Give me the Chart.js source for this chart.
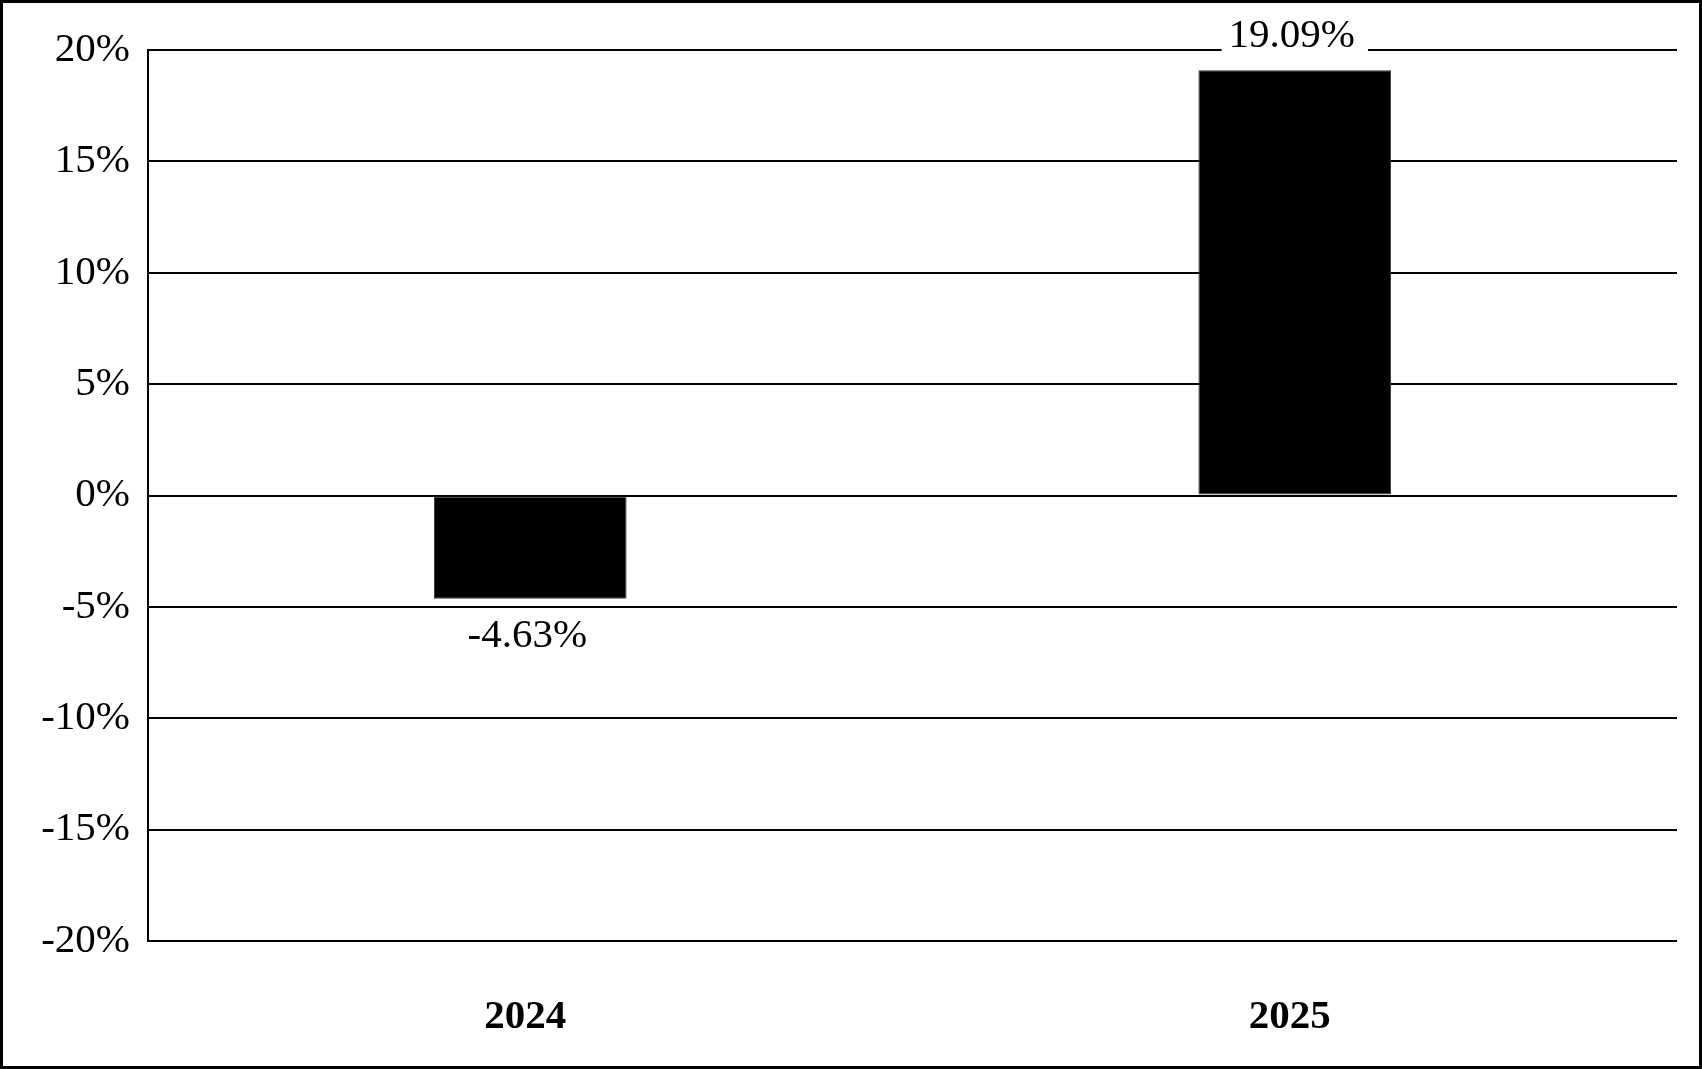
<!DOCTYPE html>
<html>
<head>
<meta charset="utf-8">
<script src="https://cdn.jsdelivr.net/npm/chart.js@4.4.0/dist/chart.umd.min.js"></script>
<style>
    html, body { margin: 0; padding: 0; background: #fff; }
    canvas { display: block; }
</style>
</head>
<body>
<canvas id="returnsChart" width="1702" height="1069"></canvas>
<script>
const categories = ['2024', '2025'];
const returns = [-4.63, 19.09];
const tickValues = [-20, -15, -10, -5, 0, 5, 10, 15, 20];

const serif = '"Liberation Serif", "Times New Roman", serif';

// frame around the whole picture
const framePlugin = {
    id: 'frame',
    afterDraw(chart) {
        const ctx = chart.ctx;
        ctx.save();
        ctx.strokeStyle = '#000';
        ctx.lineWidth = 3;
        ctx.strokeRect(1.5, 1.5, chart.width - 3, chart.height - 3);
        ctx.restore();
    }
};

// value labels above / below each bar
const valueLabels = {
    id: 'valueLabels',
    afterDatasetsDraw(chart) {
        const ctx = chart.ctx;
        const meta = chart.getDatasetMeta(0);
        ctx.save();
        ctx.font = '41px ' + serif;
        ctx.textAlign = 'center';
        ctx.textBaseline = 'middle';
        meta.data.forEach(function (bar, i) {
            const v = returns[i];
            const text = v.toFixed(2) + '%';
            const y = v >= 0 ? bar.y - 36 : bar.y + 36;
            const w = ctx.measureText(text).width;
            ctx.fillStyle = '#fff';
            ctx.fillRect(bar.x - w / 2 - 10, y - 20, w + 20, 40);
            ctx.fillStyle = '#000';
            ctx.fillText(text, bar.x - 3, y + 2);
        });
        ctx.restore();
    }
};

const ctx = document.getElementById('returnsChart').getContext('2d');
new Chart(ctx, {
    type: 'bar',
    data: {
        labels: categories,
        datasets: [{
            data: returns,
            backgroundColor: '#000',
            borderColor: '#333',
            borderWidth: 1,
            borderSkipped: false,
            categoryPercentage: 1,
            barPercentage: 0.252
        }]
    },
    options: {
        responsive: false,
        animation: false,
        layout: { padding: { top: 50, right: 25, left: 0, bottom: 0 } },
        plugins: {
            legend: { display: false },
            tooltip: { enabled: false }
        },
        scales: {
            x: {
                grid: { display: false, drawTicks: false },
                border: { display: false },
                ticks: {
                    color: '#000',
                    padding: 52,
                    labelOffset: -5,
                    font: { family: serif, size: 41, weight: 'bold' }
                },
                afterFit(scale) { scale.height = 128; }
            },
            y: {
                min: -20,
                max: 20,
                afterBuildTicks(scale) {
                    scale.ticks = tickValues.map(function (v) { return { value: v }; });
                },
                grid: { color: '#000', lineWidth: 2, drawTicks: false },
                border: { display: true, color: '#000', width: 2 },
                ticks: {
                    color: '#000',
                    padding: 18,
                    font: { family: serif, size: 41 },
                    callback: function (v) { return v + '%'; }
                },
                afterFit(scale) { scale.width = 148; }
            }
        }
    },
    plugins: [valueLabels, framePlugin]
});
</script>
</body>
</html>
